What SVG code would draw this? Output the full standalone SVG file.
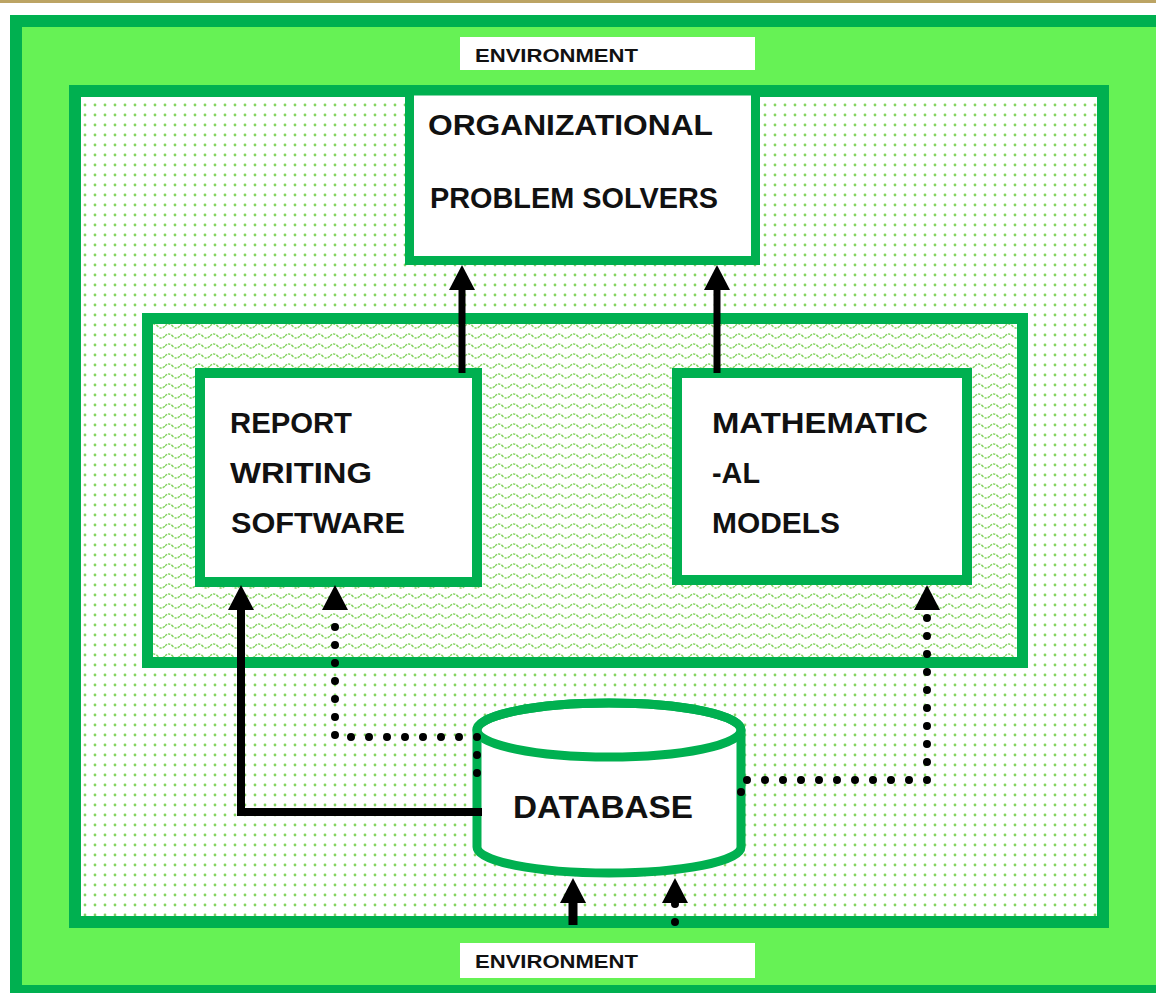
<svg xmlns="http://www.w3.org/2000/svg" width="1156" height="993" viewBox="0 0 1156 993">
<defs>
<style>
.box{fill:#fff;stroke:#00b050}
.lbl{font-family:"Liberation Sans",Arial,sans-serif;font-weight:bold;fill:#111}
.solid{fill:none;stroke:#000;stroke-linejoin:miter}
.dotted{fill:none;stroke:#000;stroke-width:8;stroke-linecap:round;stroke-dasharray:0 18}
</style>
<pattern id="dots" width="10" height="10" patternUnits="userSpaceOnUse">
<rect width="10" height="10" fill="#fff"/>
<circle cx="5" cy="5" r="1.4" fill="#84d460"/>
</pattern>
<pattern id="waves" width="15" height="10" patternUnits="userSpaceOnUse">
<rect width="15" height="10" fill="#fff"/>
<path d="M0 6 Q3.75 2 7.5 6 T15 6" fill="none" stroke="#84d460" stroke-width="1.5" stroke-dasharray="2.4 1.2"/>
</pattern>
<marker id="ah" markerUnits="userSpaceOnUse" viewBox="0 0 25 26" markerWidth="25" markerHeight="26" refX="0" refY="13" orient="auto">
<path d="M0,0 L25,13 L0,26 Z" fill="#000"/>
</marker>
</defs>
<rect x="0" y="0" width="1156" height="993" fill="#fff"/>
<rect x="0" y="0" width="1156" height="3" fill="#bca464"/>
<g id="environment">
<rect x="16" y="21" width="1160" height="970" fill="#66f255" stroke="#00b050" stroke-width="12"/>
<rect x="460" y="37" width="295" height="33" fill="#fff"/>
<text class="lbl" x="475" y="62" font-size="19" textLength="163" lengthAdjust="spacingAndGlyphs">ENVIRONMENT</text>
<rect x="460" y="943" width="295" height="35" fill="#fff"/>
<text class="lbl" x="475" y="968" font-size="19" textLength="163" lengthAdjust="spacingAndGlyphs">ENVIRONMENT</text>
</g>
<g id="organization">
<rect x="75" y="91" width="1028" height="831" fill="url(#dots)" stroke="#00b050" stroke-width="12"/>
</g>
<g id="dss">
<rect x="147.5" y="318.5" width="875" height="344" fill="url(#waves)" stroke="#00b050" stroke-width="11"/>
</g>
<g id="problem-solvers">
<rect class="box" x="409.5" y="91" width="346" height="169.5" stroke-width="9"/>
<text class="lbl" x="428" y="135" font-size="29" textLength="285" lengthAdjust="spacingAndGlyphs">ORGANIZATIONAL</text>
<text class="lbl" x="430" y="208" font-size="29" textLength="288" lengthAdjust="spacingAndGlyphs">PROBLEM SOLVERS</text>
</g>
<g id="report-writing">
<rect class="box" x="200" y="373" width="277" height="209" stroke-width="10"/>
<text class="lbl" x="230" y="433" font-size="29" textLength="122" lengthAdjust="spacingAndGlyphs">REPORT</text>
<text class="lbl" x="230" y="483" font-size="29" textLength="142" lengthAdjust="spacingAndGlyphs">WRITING</text>
<text class="lbl" x="231" y="533" font-size="29" textLength="174" lengthAdjust="spacingAndGlyphs">SOFTWARE</text>
</g>
<g id="math-models">
<rect class="box" x="677" y="373" width="290" height="207" stroke-width="10"/>
<text class="lbl" x="712" y="433" font-size="29" textLength="216" lengthAdjust="spacingAndGlyphs">MATHEMATIC</text>
<text class="lbl" x="712" y="483" font-size="29" textLength="48" lengthAdjust="spacingAndGlyphs">-AL</text>
<text class="lbl" x="712" y="533" font-size="29" textLength="128" lengthAdjust="spacingAndGlyphs">MODELS</text>
</g>
<g id="database">
<path class="box" d="M477,730 L477,847 A132,26 0 0 0 741,847 L741,730 A132,27 0 0 0 477,730 Z" stroke-width="9"/>
<ellipse cx="609" cy="730" rx="132" ry="27" fill="none" stroke="#00b050" stroke-width="9"/>
<text class="lbl" x="513" y="818" font-size="31" textLength="180" lengthAdjust="spacingAndGlyphs">DATABASE</text>
</g>
<g id="connectors">
<path class="solid" d="M462,373 L462,290" stroke-width="7" marker-end="url(#ah)"/>
<path class="solid" d="M717,373 L717,290" stroke-width="7" marker-end="url(#ah)"/>
<path class="solid" d="M482,812 L241,812 L241,610" stroke-width="8" marker-end="url(#ah)"/>
<path class="dotted" d="M477,773 L477,737 L335,737 L335,610" marker-end="url(#ah)"/>
<path class="dotted" d="M741,792 L741,780 L927,780 L927,610" marker-end="url(#ah)"/>
<path class="solid" d="M573,925 L573,903" stroke-width="9" marker-end="url(#ah)"/>
<path class="dotted" d="M675,922 L675,903" stroke-dasharray="0 19" marker-end="url(#ah)"/>
</g>
</svg>
